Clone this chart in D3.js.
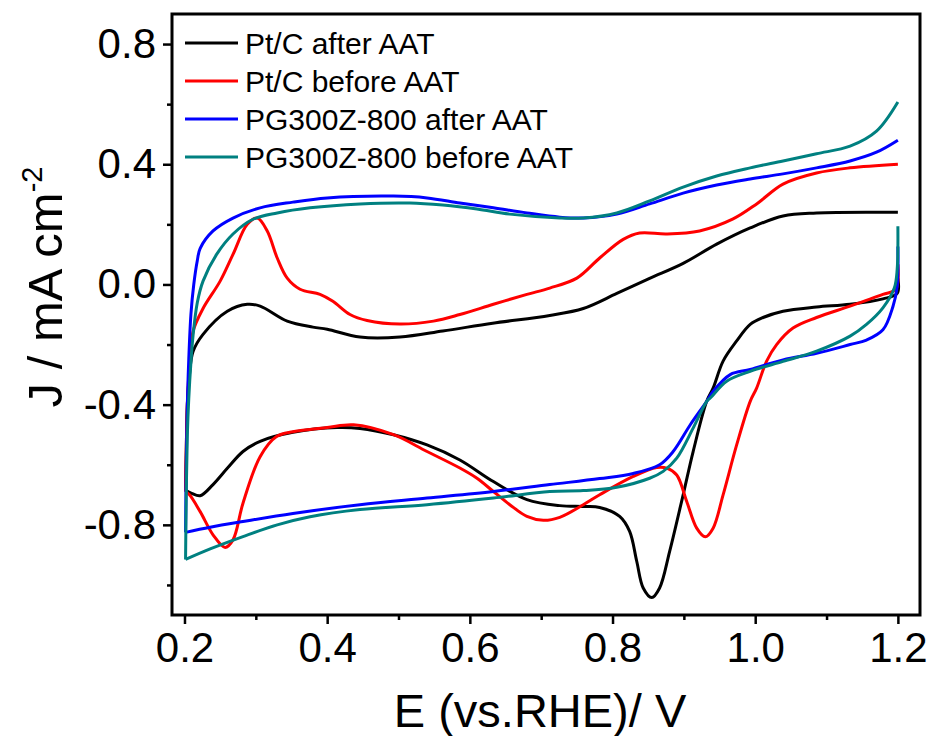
<!DOCTYPE html>
<html>
<head>
<meta charset="utf-8">
<script src="https://cdn.jsdelivr.net/npm/d3@7"></script>
<style>
  body { margin: 0; background: #fff; }
  text { font-family: Arial, "Liberation Sans", sans-serif; fill: #000; }
</style>
</head>
<body>
<script>
// tick values
const xTicks = [0.2, 0.4, 0.6, 0.8, 1.0, 1.2];
const xMinorTicks = [0.3, 0.5, 0.7, 0.9, 1.1];
const yTicks = [-0.8, -0.4, 0.0, 0.4, 0.8];
const yMinorTicks = [-1.0, -0.6, -0.2, 0.2, 0.6];

const seriesNames = ["Pt/C after AAT", "Pt/C before AAT", "PG300Z-800 after AAT", "PG300Z-800 before AAT"];
const seriesColors = ["#000000", "#ff0000", "#0000ff", "#008080"];

// [E, J] pairs: cathodic sweep 1.2 -> 0.2, then anodic sweep 0.2 -> 1.2
const ptcAfter = [
  [1.2, 0.02], [1.199, -0.03], [1.179, -0.048], [1.133, -0.066], [1.086, -0.075], [1.039, -0.089],
  [1.011, -0.11], [0.993, -0.133], [0.974, -0.188], [0.955, -0.255], [0.941, -0.345], [0.932, -0.389],
  [0.913, -0.556], [0.899, -0.70], [0.880, -0.889], [0.866, -1.01], [0.855, -1.042], [0.843, -1.01],
  [0.834, -0.922], [0.824, -0.822], [0.81, -0.772], [0.782, -0.742], [0.759, -0.739], [0.726, -0.736],
  [0.68, -0.716], [0.633, -0.656], [0.586, -0.584], [0.54, -0.534], [0.493, -0.50], [0.446, -0.479],
  [0.414, -0.476], [0.352, -0.492], [0.306, -0.522], [0.282, -0.556], [0.26, -0.612], [0.24, -0.666],
  [0.222, -0.703], [0.21, -0.695], [0.2015, -0.685],
  [0.2025, -0.55], [0.204, -0.40], [0.207, -0.30], [0.212, -0.223], [0.226, -0.166], [0.26, -0.089],
  [0.288, -0.066], [0.306, -0.072], [0.344, -0.122], [0.38, -0.142], [0.40, -0.149], [0.446, -0.175],
  [0.502, -0.175], [0.562, -0.155], [0.632, -0.129], [0.712, -0.103], [0.759, -0.08], [0.806, -0.03],
  [0.852, 0.02], [0.899, 0.07], [0.946, 0.134], [0.993, 0.188], [1.039, 0.228], [1.086, 0.238], [1.2, 0.24]
];

const ptcBefore = [
  [1.2, 0.067], [1.197, -0.016], [1.179, -0.033], [1.133, -0.072], [1.086, -0.11], [1.053, -0.145],
  [1.03, -0.2], [1.016, -0.255], [1.002, -0.345], [0.993, -0.389], [0.974, -0.534], [0.955, -0.70],
  [0.941, -0.811], [0.93, -0.84], [0.918, -0.811], [0.904, -0.722], [0.89, -0.634], [0.876, -0.611],
  [0.862, -0.609], [0.829, -0.639], [0.782, -0.70], [0.759, -0.733], [0.726, -0.775], [0.703, -0.785],
  [0.68, -0.772], [0.656, -0.733], [0.633, -0.689], [0.61, -0.645], [0.586, -0.611], [0.54, -0.556],
  [0.493, -0.50], [0.437, -0.467], [0.40, -0.476], [0.352, -0.49], [0.329, -0.506], [0.306, -0.573],
  [0.282, -0.728], [0.268, -0.85], [0.257, -0.875], [0.24, -0.833], [0.222, -0.756], [0.207, -0.70],
  [0.2015, -0.69],
  [0.2025, -0.55], [0.204, -0.40], [0.207, -0.27], [0.212, -0.156], [0.226, -0.08], [0.25, 0.011],
  [0.268, 0.10], [0.288, 0.20], [0.302, 0.221], [0.316, 0.178], [0.33, 0.088], [0.344, 0.021],
  [0.362, -0.016], [0.39, -0.033], [0.408, -0.056], [0.432, -0.10], [0.456, -0.12], [0.502, -0.132],
  [0.549, -0.122], [0.586, -0.10], [0.633, -0.066], [0.68, -0.033], [0.712, -0.012], [0.75, 0.021],
  [0.782, 0.088], [0.815, 0.15], [0.838, 0.171], [0.876, 0.168], [0.922, 0.178], [0.969, 0.218],
  [1.002, 0.268], [1.039, 0.334], [1.086, 0.371], [1.133, 0.388], [1.2, 0.40]
];

const pgAfter = [
  [1.2, 0.126], [1.199, -0.007], [1.193, -0.074], [1.179, -0.151], [1.156, -0.185], [1.133, -0.2],
  [1.086, -0.229], [1.039, -0.251], [0.993, -0.283], [0.965, -0.30], [0.941, -0.356], [0.932, -0.389],
  [0.909, -0.467], [0.885, -0.556], [0.866, -0.60], [0.829, -0.629], [0.782, -0.646], [0.712, -0.666],
  [0.633, -0.689], [0.54, -0.711], [0.446, -0.733], [0.352, -0.762], [0.282, -0.789], [0.236, -0.808],
  [0.2015, -0.825],
  [0.2025, -0.60], [0.204, -0.40], [0.206, -0.25], [0.209, -0.10], [0.213, 0.0], [0.218, 0.08],
  [0.222, 0.12], [0.24, 0.178], [0.268, 0.221], [0.306, 0.255], [0.352, 0.274], [0.40, 0.288],
  [0.493, 0.294], [0.54, 0.288], [0.586, 0.271], [0.633, 0.255], [0.68, 0.238], [0.726, 0.224],
  [0.759, 0.221], [0.806, 0.234], [0.852, 0.268], [0.899, 0.304], [0.946, 0.331], [0.993, 0.351],
  [1.039, 0.368], [1.086, 0.388], [1.133, 0.411], [1.17, 0.44], [1.2, 0.48]
];

const pgBefore = [
  [1.2, 0.194], [1.199, 0.05], [1.195, -0.012], [1.179, -0.078], [1.156, -0.133], [1.133, -0.172],
  [1.086, -0.222], [1.039, -0.256], [0.993, -0.289], [0.96, -0.322], [0.937, -0.378], [0.932, -0.389],
  [0.913, -0.478], [0.89, -0.578], [0.871, -0.622], [0.852, -0.645], [0.806, -0.675], [0.759, -0.686],
  [0.712, -0.689], [0.633, -0.711], [0.54, -0.733], [0.446, -0.749], [0.376, -0.773], [0.33, -0.80],
  [0.282, -0.839], [0.236, -0.880], [0.2015, -0.915],
  [0.2025, -0.70], [0.204, -0.50], [0.206, -0.38], [0.209, -0.26], [0.212, -0.17], [0.218, -0.06],
  [0.226, 0.011], [0.245, 0.10], [0.268, 0.168], [0.296, 0.217], [0.33, 0.238], [0.376, 0.255],
  [0.446, 0.268], [0.516, 0.271], [0.562, 0.264], [0.61, 0.251], [0.656, 0.234], [0.726, 0.221],
  [0.759, 0.221], [0.806, 0.238], [0.852, 0.278], [0.899, 0.324], [0.946, 0.361], [0.993, 0.388],
  [1.039, 0.411], [1.086, 0.435], [1.133, 0.46], [1.17, 0.51], [1.2, 0.607]
];

const allSeries = [ptcAfter, ptcBefore, pgAfter, pgBefore];

const margin = {top: 14, right: 9, bottom: 121, left: 172};
const width = 929 - margin.left - margin.right;
const height = 736 - margin.top - margin.bottom;

var svg = d3.select("body")
            .append("svg")
            .attr("width", 929)
            .attr("height", 736);

var g = svg.append("g")
           .attr("transform", "translate(" + margin.left + "," + margin.top + ")");

var x = d3.scaleLinear()
          .domain([0.1825, 1.231])
          .range([0, width]);

var y = d3.scaleLinear()
          .domain([-1.1, 0.9])
          .range([height, 0]);

var fmt = function(d) { return d.toFixed(1); };

// major + minor ticks, bottom
var xAxis = g.append("g")
             .attr("transform", "translate(0," + height + ")")
             .call(d3.axisBottom(x).tickValues(xTicks).tickFormat(fmt).tickSize(9).tickPadding(8));
g.append("g")
 .attr("transform", "translate(0," + height + ")")
 .call(d3.axisBottom(x).tickValues(xMinorTicks).tickFormat("").tickSize(5));

var yAxis = g.append("g")
             .call(d3.axisLeft(y).tickValues(yTicks).tickFormat(fmt).tickSize(9).tickPadding(7));
g.append("g")
 .call(d3.axisLeft(y).tickValues(yMinorTicks).tickFormat("").tickSize(5));

g.selectAll(".domain").remove();
g.selectAll(".tick line").attr("stroke", "#000").attr("stroke-width", 2.5);
xAxis.selectAll("text").style("font-size", "42px").attr("fill", "#000");
yAxis.selectAll("text").style("font-size", "42px").attr("fill", "#000");

// frame
g.append("rect")
 .attr("x", 0)
 .attr("y", 0)
 .attr("width", width)
 .attr("height", height)
 .attr("fill", "none")
 .attr("stroke", "#000")
 .attr("stroke-width", 3);

var line = d3.line()
             .x(function(d) { return x(d[0]); })
             .y(function(d) { return y(d[1]); })
             .curve(d3.curveCatmullRom.alpha(0.5));

// split each loop at the 0.2 V turning point so the corner stays sharp
function branches(d) {
    var k = d3.minIndex(d, function(p) { return p[0]; });
    return [d.slice(0, k + 1), d.slice(k)];
}

var cv = g.selectAll(".cv")
          .data(allSeries)
          .enter()
          .append("g")
          .attr("class", "cv");

cv.selectAll("path")
  .data(function(d, i) { return branches(d).map(function(b) { return {pts: b, c: seriesColors[i]}; }); })
  .enter()
  .append("path")
  .attr("d", function(d) { return line(d.pts); })
  .attr("fill", "none")
  .attr("stroke", function(d) { return d.c; })
  .attr("stroke-width", 3)
  .attr("stroke-linejoin", "round");

// legend
var legend = svg.append("g")
                .selectAll("g")
                .data(seriesNames)
                .enter()
                .append("g")
                .attr("transform", function(d, i) { return "translate(185," + (43 + i * 38) + ")"; });

legend.append("line")
      .attr("x1", 0)
      .attr("x2", 53)
      .attr("stroke", function(d, i) { return seriesColors[i]; })
      .attr("stroke-width", 3);

legend.append("text")
      .attr("x", 60)
      .attr("y", 10.5)
      .style("font-size", "30px")
      .text(function(d) { return d; });

// axis titles
svg.append("text")
   .attr("x", 540)
   .attr("y", 727)
   .attr("text-anchor", "middle")
   .style("font-size", "47px")
   .text("E (vs.RHE)/ V");

var yTitle = svg.append("text")
                .attr("transform", "translate(62,287) rotate(-90)")
                .attr("text-anchor", "middle")
                .style("font-size", "49px");
yTitle.append("tspan").text("J / mA cm");
yTitle.append("tspan")
      .attr("dy", -20)
      .style("font-size", "29px")
      .text("-2");
</script>
</body>
</html>
